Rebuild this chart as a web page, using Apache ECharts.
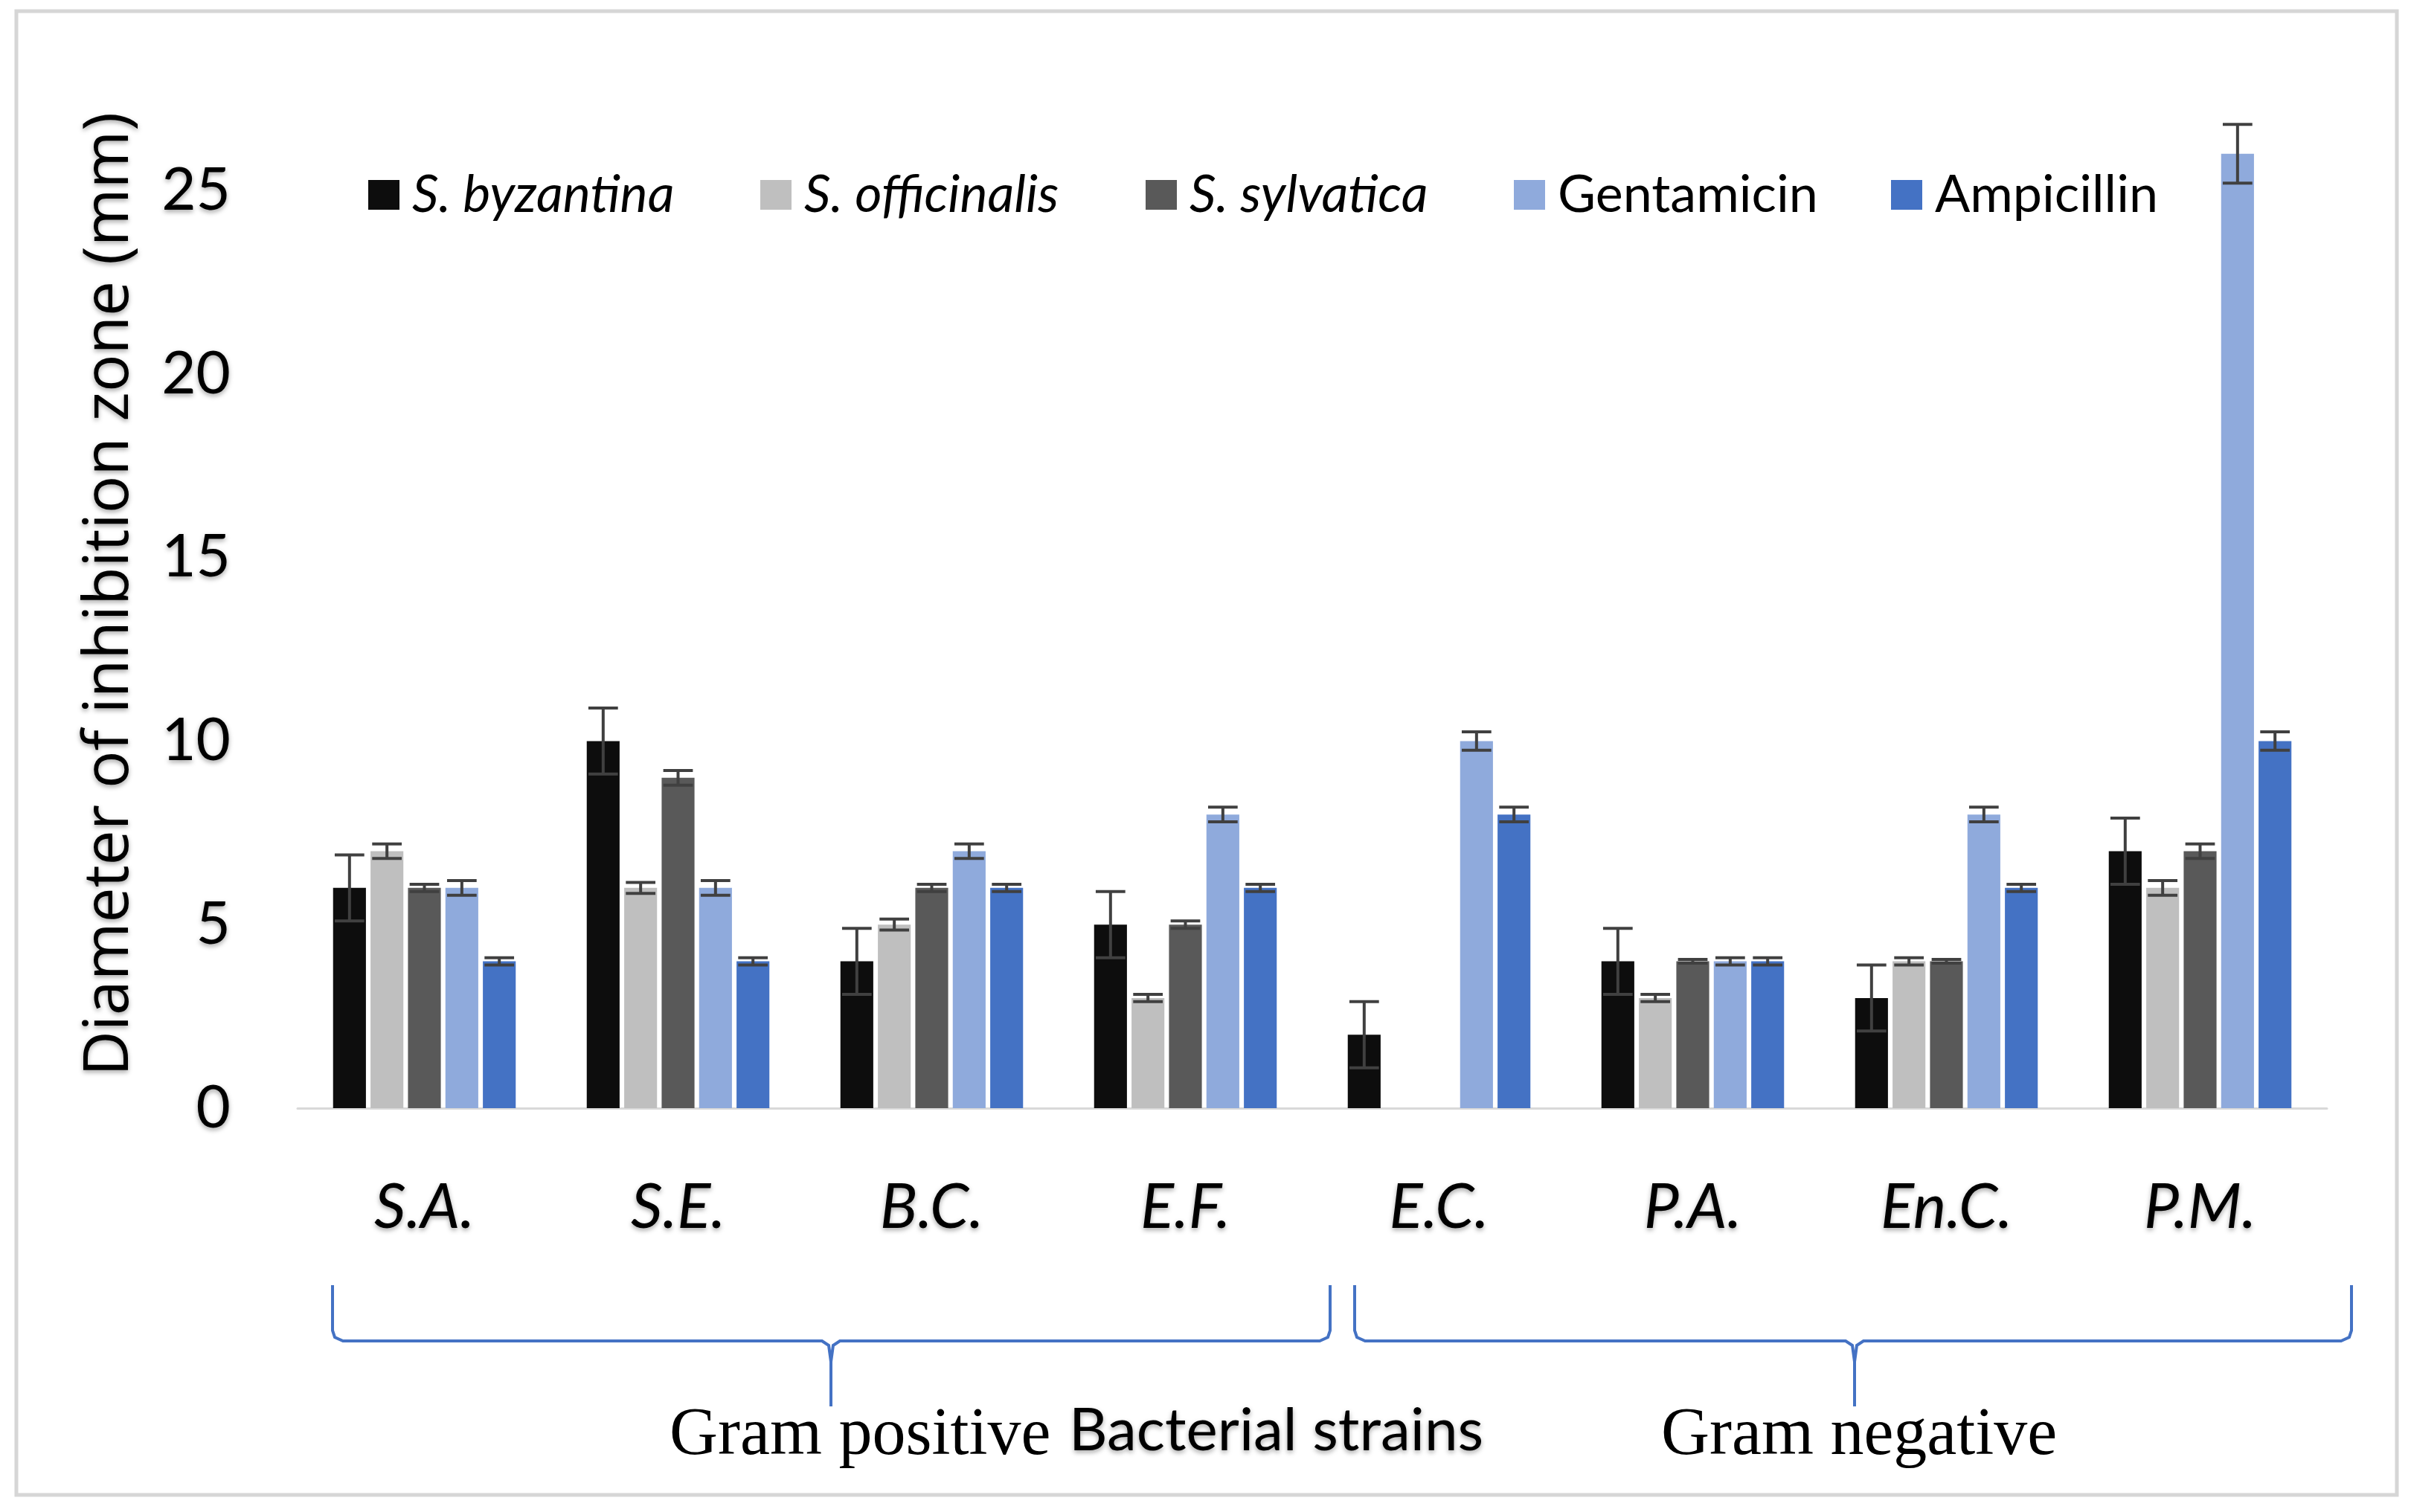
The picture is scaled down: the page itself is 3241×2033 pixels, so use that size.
<!DOCTYPE html>
<html>
<head>
<meta charset="utf-8">
<script src="https://cdn.jsdelivr.net/npm/echarts@6/dist/echarts.min.js"></script>
<style>
html,body{margin:0;padding:0;background:#fff;}
#chart{width:3241px;height:2033px;}
</style>
</head>
<body>
<div id="chart"></div>
<script>
const categories = ['S.A.', 'S.E.', 'B.C.', 'E.F.', 'E.C.', 'P.A.', 'En.C.', 'P.M.'];
const seriesNames = ['S. byzantina', 'S. officinalis', 'S. sylvatica', 'Gentamicin', 'Ampicillin'];
const byzantina      = [6, 10, 4, 5, 2, 4, 3, 7];
const byzantinaErr   = [0.9, 0.9, 0.9, 0.9, 0.9, 0.9, 0.9, 0.9];
const officinalis    = [7, 6, 5, 3, 0, 3, 4, 6];
const officinalisErr = [0.2, 0.15, 0.15, 0.1, 0, 0.1, 0.1, 0.2];
const sylvatica      = [6, 9, 6, 5, 0, 4, 4, 7];
const sylvaticaErr   = [0.1, 0.2, 0.1, 0.1, 0, 0.05, 0.05, 0.2];
const gentamicin     = [6, 6, 7, 8, 10, 4, 8, 26];
const gentamicinErr  = [0.2, 0.2, 0.2, 0.2, 0.25, 0.1, 0.2, 0.8];
const ampicillin     = [4, 4, 6, 6, 8, 4, 6, 10];
const ampicillinErr  = [0.1, 0.1, 0.1, 0.1, 0.2, 0.1, 0.1, 0.25];
const yTicks = [0, 5, 10, 15, 20, 25];
const groupLabels = ['Gram positive', 'Bacterial strains', 'Gram negative'];

const colors = ['#0d0d0d', '#bfbfbf', '#595959', '#8faadc', '#4472c4'];
const values = [byzantina, officinalis, sylvatica, gentamicin, ampicillin];
const errors = [byzantinaErr, officinalisErr, sylvaticaErr, gentamicinErr, ampicillinErr];

const BAR_CAT_GAP = 0.28, BAR_GAP = 0.14, NB = 5;

const chart = echarts.init(document.getElementById('chart'), null, {renderer: 'canvas'});

const barSeries = seriesNames.map((name, k) => ({
  name: name,
  type: 'bar',
  data: values[k],
  barGap: (BAR_GAP * 100) + '%',
  barCategoryGap: (BAR_CAT_GAP * 100) + '%',
  itemStyle: {color: colors[k]},
  emphasis: {disabled: true},
  z: 2
}));

const errSeries = seriesNames.map((name, k) => ({
  name: name + ' error',
  type: 'custom',
  z: 5,
  encode: {x: 0, y: 1},
  data: categories.map((c, i) => [i, values[k][i], errors[k][i]]),
  renderItem: function (params, api) {
    const ci = api.value(0), v = api.value(1), e = api.value(2);
    if (!e) return null;
    const catW = api.size([1, 0])[0];
    const w = catW * (1 - BAR_CAT_GAP) / (NB + (NB - 1) * BAR_GAP);
    const pitch = w * (1 + BAR_GAP);
    const x = api.coord([ci, v])[0] + (k - (NB - 1) / 2) * pitch;
    const yHi = api.coord([ci, v + e])[1];
    const yLo = api.coord([ci, v - e])[1];
    const cap = w * 0.45;
    const st = {stroke: '#404040', lineWidth: 4};
    return {
      type: 'group',
      children: [
        {type: 'line', shape: {x1: x, y1: yHi, x2: x, y2: yLo}, style: st},
        {type: 'line', shape: {x1: x - cap, y1: yHi, x2: x + cap, y2: yHi}, style: st},
        {type: 'line', shape: {x1: x - cap, y1: yLo, x2: x + cap, y2: yLo}, style: st}
      ]
    };
  }
}));

const legendLefts = [490, 1017, 1535, 2030, 2537];
const legends = seriesNames.map((name, k) => ({
  data: [name],
  left: legendLefts[k],
  top: 222,
  icon: 'rect',
  itemWidth: 42,
  itemHeight: 40,
  selectedMode: false,
  textStyle: {
    fontFamily: 'Lato',
    fontSize: 70,
    fontStyle: k < 3 ? 'italic' : 'normal',
    color: '#000',
    padding: [0, 0, 0, 12]
  }
}));

const shadow = {textShadowColor: 'rgba(0,0,0,0.35)', textShadowBlur: 6, textShadowOffsetY: 3};

function braceParts(x0, x1, xm, yTop, yLine, yTip) {
  const a = [[x0, yTop], [x0, yLine - 14], [x0 + 3, yLine - 5], [x0 + 14, yLine], [xm - 12, yLine], [xm - 3, yLine + 6], [xm, yLine + 28], [xm, yTip]];
  const b = [[xm, yLine + 28], [xm + 3, yLine + 6], [xm + 12, yLine], [x1 - 14, yLine], [x1 - 3, yLine - 5], [x1, yLine - 14], [x1, yTop]];
  const st = {fill: 'none', stroke: '#4472c4', lineWidth: 4};
  return [
    {type: 'polyline', shape: {points: a}, style: st, silent: true},
    {type: 'polyline', shape: {points: b}, style: st, silent: true}
  ];
}

const option = {
  backgroundColor: '#ffffff',
  animation: false,
  legend: legends,
  grid: {left: 400, right: 113, top: 108, bottom: 543, containLabel: false},
  xAxis: {
    type: 'category',
    data: categories,
    axisLine: {show: true, lineStyle: {color: '#d9d9d9', width: 3}},
    axisTick: {show: false},
    axisLabel: Object.assign({
      fontFamily: 'Lato', fontStyle: 'italic', fontSize: 84, color: '#000', margin: 92
    }, shadow),
    splitLine: {show: false}
  },
  yAxis: {
    type: 'value',
    min: 0,
    max: 28,
    interval: 5,
    name: 'Diameter of inhibition zone (mm)',
    nameLocation: 'middle',
    nameGap: 210,
    nameTextStyle: Object.assign({fontFamily: 'Open Sans', fontSize: 84, color: '#000'}, shadow),
    axisLine: {show: false},
    axisTick: {show: false},
    splitLine: {show: false},
    axisLabel: Object.assign({
      fontFamily: 'Lato', fontSize: 80, color: '#000', margin: 90,
      formatter: function (v) { return yTicks.indexOf(v) >= 0 ? String(v) : ''; }
    }, shadow)
  },
  series: barSeries.concat(errSeries),
  graphic: [
    {type: 'rect', shape: {x: 22, y: 15, width: 3200, height: 1995}, style: {fill: 'none', stroke: '#d6d6d6', lineWidth: 5}, silent: true}
  ].concat(braceParts(447, 1788, 1117, 1728, 1803, 1891))
   .concat(braceParts(1821, 3161, 2493, 1728, 1803, 1891))
   .concat([
    {type: 'text', left: 900, top: 1886, style: {text: groupLabels[0], font: '90px "Liberation Serif"', fill: '#000'}},
    {type: 'text', left: 1437, top: 1884, style: Object.assign({text: groupLabels[1], font: '80px Lato', fill: '#000'}, shadow)},
    {type: 'text', left: 2233, top: 1886, style: {text: groupLabels[2], font: '90px "Liberation Serif"', fill: '#000'}}
  ])
};

chart.setOption(option);
</script>
</body>
</html>
